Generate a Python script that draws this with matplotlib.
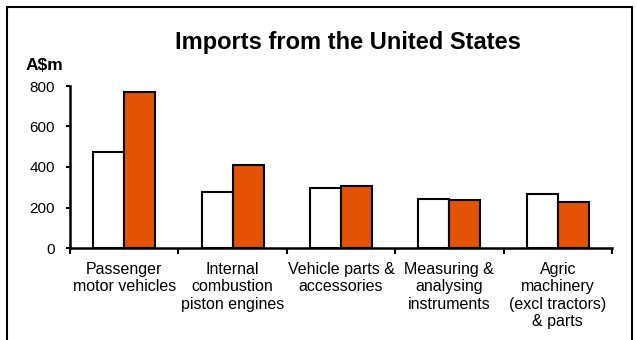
import matplotlib
matplotlib.use("Agg")
import matplotlib.pyplot as plt
from matplotlib.patches import Rectangle
import numpy as np

plt.rcParams["font.family"] = ["Liberation Sans", "DejaVu Sans"]

# ── data ───────────────────────────────────────────────────────────────────────
categories = [
    "Passenger\nmotor vehicles",
    "Internal\ncombustion\npiston engines",
    "Vehicle parts &\naccessories",
    "Measuring &\nanalysing\ninstruments",
    "Agric\nmachinery\n(excl tractors)\n& parts",
]
prev_year = [475, 275, 295, 240, 268]
curr_year = [770, 410, 308, 238, 226]
y_ticks = [0, 200, 400, 600, 800]

orange = "#E35205"

fig = plt.figure(figsize=(6.37, 3.40), dpi=100)
ax = fig.add_axes([70 / 637, 92 / 340, 542 / 637, 162 / 340])

x = np.arange(len(categories))
w = 0.286
ax.bar(x - w / 2, prev_year, width=w, color="white", edgecolor="black", lw=1.5)
ax.bar(x + w / 2, curr_year, width=w, color=orange, edgecolor="black", lw=1.5)

ax.set_xlim(-0.5, len(categories) - 0.5)
ax.set_ylim(0, 800)
ax.set_yticks(y_ticks)
ax.tick_params(axis="y", labelsize=11, length=3, width=1.5, direction="out", pad=8)

# category labels at centres, tick marks on boundaries
ax.set_xticks(x)
ax.set_xticklabels(categories, fontsize=11.5, linespacing=1.2)
ax.tick_params(axis="x", which="major", length=0, pad=10)
ax.set_xticks(np.arange(len(categories) + 1) - 0.5, minor=True)
ax.tick_params(axis="x", which="minor", length=4, width=1.5, direction="out")

for side in ["top", "right"]:
    ax.spines[side].set_visible(False)
for side in ["left", "bottom"]:
    ax.spines[side].set_linewidth(1.8)

fig.text(348 / 637, 1 - 43 / 340, "Imports from the United States",
         ha="center", va="center", fontsize=17, fontweight="bold")
fig.text(26 / 637, 1 - 65 / 340, "A$m", ha="left", va="center",
         fontsize=12.5, fontweight="bold")

# outer frame (runs off the bottom of the image)
fig.patches.append(Rectangle((7 / 637, -0.1), 625 / 637, 1.1 - 7 / 340,
                             transform=fig.transFigure, fill=False,
                             edgecolor="black", lw=1.5))

fig.savefig("out.png", dpi=100)
